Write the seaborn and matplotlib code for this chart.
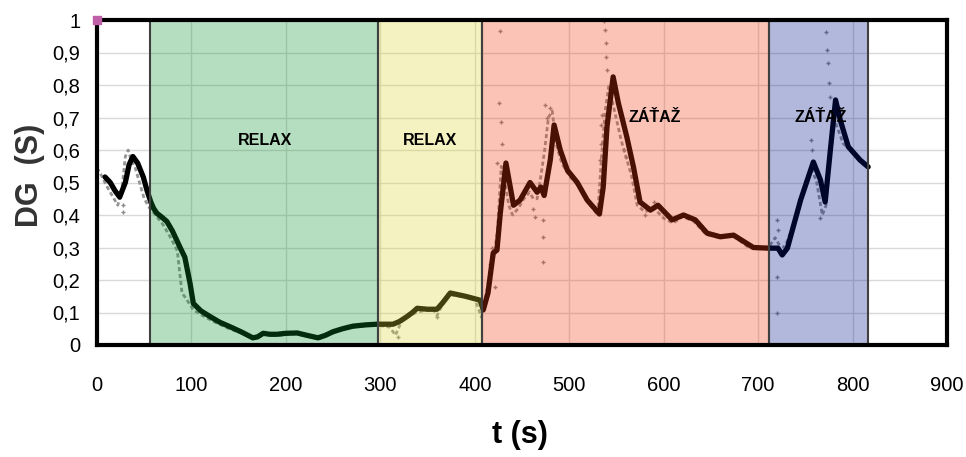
import matplotlib
matplotlib.use("Agg")
import matplotlib.pyplot as plt
import seaborn as sns
import pandas as pd
import numpy as np

# ---------------- data ----------------
line_t = [8.5, 14, 19, 24, 30, 34, 38, 43, 49, 53, 57, 60, 63.5, 68, 74, 80, 88, 93, 98.5, 102,
          110, 120, 130, 141, 153, 165, 170, 176, 183, 190.5, 200, 212, 222, 234, 242, 250, 260,
          271, 285, 296.5, 305, 313.5, 320, 328, 334, 339, 350, 360, 366, 374, 390, 405.5, 409,
          414, 419.5, 423.5, 427, 433, 437.5, 441, 448, 458.5, 466, 470, 473.5, 480, 484, 490.5,
          498, 508.5, 519, 532, 536, 540, 546.5, 552, 561, 568, 575, 586, 594, 604, 609, 621,
          633.5, 646, 660, 674, 695, 711, 721, 725.5, 731, 745, 758.5, 766, 771, 776.5, 782, 787,
          795.5, 808, 816.5]
line_v = [0.517, 0.50, 0.475, 0.455, 0.50, 0.555, 0.58, 0.56, 0.517, 0.475, 0.44, 0.42, 0.405,
          0.395, 0.38, 0.35, 0.30, 0.27, 0.19, 0.128, 0.105, 0.087, 0.07, 0.056, 0.04, 0.022,
          0.025, 0.036, 0.033, 0.033, 0.036, 0.037, 0.03, 0.022, 0.03, 0.041, 0.05, 0.058, 0.062,
          0.064, 0.064, 0.064, 0.072, 0.087, 0.10, 0.113, 0.11, 0.11, 0.13, 0.16, 0.15, 0.138,
          0.108, 0.16, 0.283, 0.292, 0.405, 0.56, 0.487, 0.43, 0.446, 0.50, 0.47, 0.486, 0.46,
          0.57, 0.677, 0.60, 0.538, 0.50, 0.446, 0.403, 0.486, 0.672, 0.825, 0.745, 0.64, 0.548,
          0.44, 0.415, 0.43, 0.40, 0.385, 0.40, 0.385, 0.344, 0.333, 0.338, 0.30, 0.298, 0.298,
          0.277, 0.298, 0.446, 0.563, 0.508, 0.44, 0.60, 0.754, 0.692, 0.61, 0.569, 0.548]

raw_t = [0, 5, 10, 16, 22, 26, 30, 33, 36, 40, 45, 50, 56, 62, 70, 78, 85, 90, 95, 102, 112, 125,
         140, 155, 165, 172, 180, 195, 210, 225, 236, 248, 262, 278, 295, 310, 316, 322, 330, 338,
         345, 356, 360, 365, 372, 385, 400, 404, 407, 410, 414, 418, 420, 424, 428, 432, 436, 440,
         446, 452, 458, 462, 466, 470, 474, 478, 482, 486, 492, 500, 510, 520, 530, 534, 538, 542,
         548, 555, 560, 566, 572, 580, 590, 600, 610, 620, 632, 645, 660, 672, 690, 710, 718, 722,
         728, 735, 742, 750, 756, 762, 768, 772, 776, 780, 785, 790, 798, 806, 814]
raw_v = [0.545, 0.52, 0.49, 0.46, 0.43, 0.47, 0.58, 0.60, 0.57, 0.55, 0.50, 0.45, 0.42, 0.40,
         0.37, 0.33, 0.29, 0.16, 0.14, 0.108, 0.09, 0.07, 0.05, 0.035, 0.02, 0.03, 0.032, 0.03,
         0.035, 0.025, 0.02, 0.035, 0.05, 0.058, 0.062, 0.055, 0.03, 0.07, 0.09, 0.10, 0.105, 0.11,
         0.09, 0.12, 0.155, 0.15, 0.14, 0.11, 0.085, 0.12, 0.19, 0.25, 0.27, 0.35, 0.55, 0.50,
         0.43, 0.40, 0.42, 0.45, 0.47, 0.45, 0.45, 0.52, 0.60, 0.70, 0.72, 0.62, 0.56, 0.52, 0.49,
         0.44, 0.40, 0.57, 0.72, 0.80, 0.72, 0.63, 0.58, 0.52, 0.43, 0.41, 0.42, 0.39, 0.375,
         0.395, 0.38, 0.34, 0.33, 0.34, 0.30, 0.296, 0.33, 0.31, 0.30, 0.35, 0.42, 0.50, 0.55,
         0.50, 0.40, 0.43, 0.58, 0.70, 0.66, 0.62, 0.60, 0.57, 0.55]

out_t = [427, 426, 428, 429, 424, 421.5, 416, 418, 474.5, 480, 476, 472.5, 472.5, 472.5, 464, 462,
         537, 538, 539, 539, 540, 535, 534, 533, 534, 772, 773, 774, 775, 776.5, 720, 720, 720, 721,
         765, 756, 757, 319, 360, 558, 560, 590, 580, 27, 28]
out_v = [0.966, 0.745, 0.686, 0.62, 0.56, 0.178, 0.25, 0.30, 0.74, 0.73, 0.70, 0.255, 0.333, 0.385,
         0.394, 0.42, 0.997, 0.97, 0.93, 0.886, 0.846, 0.708, 0.677, 0.57, 0.62, 0.963, 0.908,
         0.867, 0.806, 0.763, 0.098, 0.21, 0.385, 0.354, 0.39, 0.63, 0.60, 0.025, 0.087, 0.60,
         0.58, 0.44, 0.40, 0.43, 0.41]

band_start = [56, 298, 408, 711]
band_end = [298, 408, 711, 816]
band_color = ["#0c9130", "#ddd730", "#f23a0c", "#02168e"]
band_label = ["RELAX", "RELAX", "ZÁŤAŽ", "ZÁŤAŽ"]
label_x = [178, 353, 591, 766]
label_y = [0.63, 0.63, 0.70, 0.70]

x_ticks = [0, 100, 200, 300, 400, 500, 600, 700, 800, 900]
y_ticks = [0, 0.1, 0.2, 0.3, 0.4, 0.5, 0.6, 0.7, 0.8, 0.9, 1.0]
y_tick_labels = ["0", "0,1", "0,2", "0,3", "0,4", "0,5", "0,6", "0,7", "0,8", "0,9", "1"]

# ---------------- plot ----------------
sns.set_theme(style="white")
fam = ["Liberation Sans", "DejaVu Sans"]
plt.rcParams["font.family"] = fam

fig = plt.figure(figsize=(9.66, 4.57), dpi=100)
ax = fig.add_axes([97 / 966, 1 - 345 / 457, 850 / 966, 325 / 457])

df_line = pd.DataFrame({"t": line_t, "v": line_v})
df_raw = pd.DataFrame({"t": raw_t, "v": raw_v})
df_out = pd.DataFrame({"t": out_t, "v": out_v})

sns.lineplot(data=df_raw, x="t", y="v", ax=ax, color="#959595", lw=2.0,
             linestyle=(0, (1.5, 1)), sort=False, zorder=1.5)
sns.scatterplot(data=df_out, x="t", y="v", ax=ax, marker="+", s=12, color="#8a8a8a",
                linewidth=1.0, zorder=1.6)
sns.lineplot(data=df_line, x="t", y="v", ax=ax, color="black", lw=3.8, sort=False, zorder=2)

for s, e, c in zip(band_start, band_end, band_color):
    ax.axvspan(s, e, color=c, alpha=0.3, lw=0, zorder=3)
for s, e in zip(band_start, band_end):
    ax.axvline(s, color="#404040", lw=1.5, zorder=3.5)
    ax.axvline(e, color="#404040", lw=1.5, zorder=3.5)
for lx, ly, lb in zip(label_x, label_y, band_label):
    ax.text(lx, ly, lb, ha="center", va="center", fontsize=11.5, fontweight="bold",
            color="black", family=fam, zorder=5)

ax.scatter([0], [1], marker="s", s=30, color="#c060a8", clip_on=False, zorder=10)

ax.set_xlim(0, 900)
ax.set_ylim(0, 1)
ax.set_xticks(x_ticks)
ax.set_xticklabels([str(v) for v in x_ticks])
ax.set_yticks(y_ticks)
ax.set_yticklabels(y_tick_labels)
ax.tick_params(axis="x", length=0, pad=22, labelsize=14.5, labelcolor="black")
ax.tick_params(axis="y", length=0, pad=12, labelsize=14.5, labelcolor="black")
ax.grid(True, color="#d9d9d9", lw=1.0, zorder=0.5)
ax.set_axisbelow(True)
for sp in ax.spines.values():
    sp.set_visible(True)
    sp.set_color("black")
    sp.set_linewidth(3)
    sp.set_zorder(6)
ax.set_xlabel("")
ax.set_ylabel("")

fig.text(0.031, 0.617, "DG  (S)", rotation=90, ha="center", va="center",
         fontsize=22, fontweight="bold", color="#333333", family=fam)
fig.text(0.538, 0.048, "t (s)", ha="center", va="center", fontsize=22,
         fontweight="bold", color="black", family=fam)

fig.savefig("out.png", dpi=100)
